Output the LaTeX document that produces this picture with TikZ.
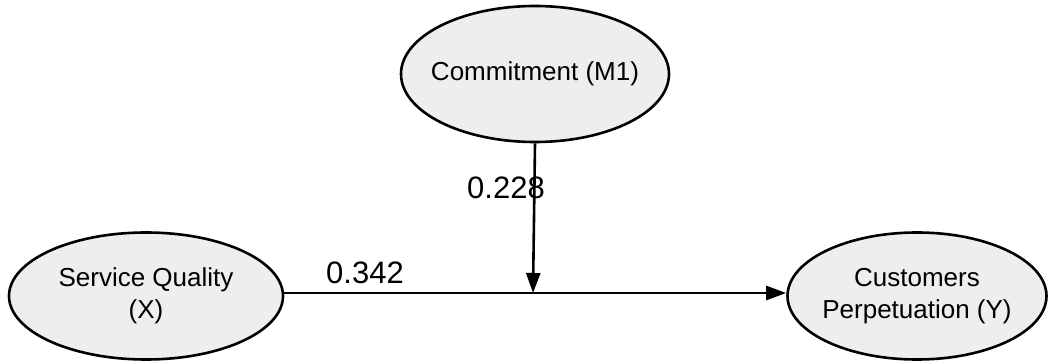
\documentclass[tikz,border=0pt]{standalone}
\usepackage{fontspec}
\setmainfont{Liberation Sans}
\usetikzlibrary{shapes.geometric,arrows.meta}
\definecolor{nodefill}{HTML}{EEEEEE}
\tikzset{
  var/.style={ellipse, draw=black, line width=2.6pt, fill=nodefill, inner sep=0pt},
  lbl/.style={align=center, inner sep=0pt, font=\fontsize{26}{32}\selectfont},
  conn/.style={line width=2.6pt, -{Triangle[length=20pt,width=14pt]}},
  coef/.style={font=\fontsize{31}{36}\selectfont, inner sep=0pt}
}
\begin{document}
\begin{tikzpicture}[x=1pt,y=1pt]
\useasboundingbox (0,0) rectangle (1050,-363);
\node[var, minimum width=268pt, minimum height=136pt] (m) at (535,-74) {};
\node[var, minimum width=274pt, minimum height=127pt] (x) at (146,-296) {};
\node[var, minimum width=259pt, minimum height=127pt] (y) at (917,-296) {};
\node[lbl] (ml) at (m.center) {Commitment (M1)};
\node[lbl] (xl) at (x.center) {Service Quality\\(X)};
\node[lbl] (yl) at (y.center) {Customers\\Perpetuation (Y)};
\coordinate (j) at (533,-293);
\draw[conn] (x.east |- j) -- (y.west |- j);
\draw[conn] (m.south) -- (j);
\node[coef] (c1) at (365,-273) {0.342};
\node[coef] (c2) at (506,-188) {0.228};
\end{tikzpicture}
\end{document}
